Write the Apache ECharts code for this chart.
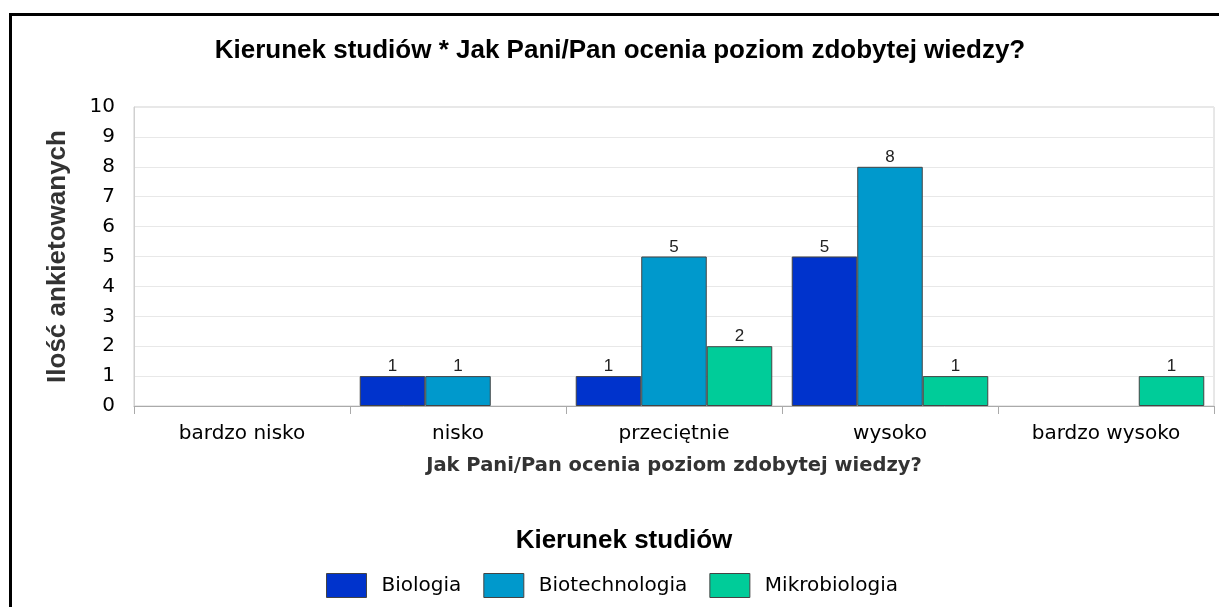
<!DOCTYPE html>
<html>
<head>
<meta charset="utf-8">
<script src="https://cdn.jsdelivr.net/npm/echarts@6/dist/echarts.min.js"></script>
<style>
  html, body { margin: 0; padding: 0; background: #fff; }
  #frame { position: absolute; left: 9px; top: 13px; right: 0; bottom: 0; border-top: 3px solid #000; border-left: 3px solid #000; pointer-events: none; }
  #chart { position: absolute; left: 0; top: 0; width: 1219px; height: 607px; }
</style>
</head>
<body>
<div id="chart"></div>
<div id="frame"></div>
<script>
var categories = ['bardzo nisko', 'nisko', 'przeciętnie', 'wysoko', 'bardzo wysoko'];
var seriesNames = ['Biologia', 'Biotechnologia', 'Mikrobiologia'];
var biologia = [0, 1, 1, 5, 0];
var biotechnologia = [0, 1, 5, 8, 0];
var mikrobiologia = [0, 0, 2, 1, 1];
var colors = ['#0033cc', '#0099cc', '#00cc99'];

var chartDom = document.getElementById('chart');
var myChart = echarts.init(chartDom);

function makeSeries(name, data, color) {
  return {
    name: name,
    type: 'bar',
    barGap: 0,
    barCategoryGap: '9%',
    data: data.map(function (v) { return v === 0 ? null : v; }),
    itemStyle: { color: color, borderColor: '#444', borderWidth: 1 },
    label: {
      show: true,
      position: 'top',
      distance: 1,
      color: '#222',
      fontFamily: 'Liberation Sans',
      fontSize: 17
    }
  };
}

var option = {
  animation: false,
  title: [
    {
      text: 'Kierunek studiów * Jak Pani/Pan ocenia poziom zdobytej wiedzy?',
      left: 615,
      textAlign: 'center',
      top: 33,
      textStyle: { fontFamily: 'Liberation Sans', fontWeight: 'bold', fontSize: 26, color: '#000' }
    },
    {
      text: 'Kierunek studiów',
      left: 619,
      textAlign: 'center',
      top: 523,
      textStyle: { fontFamily: 'Liberation Sans', fontWeight: 'bold', fontSize: 26, color: '#000' }
    }
  ],
  legend: {
    data: seriesNames,
    left: 321,
    top: 568,
    itemWidth: 40,
    itemHeight: 24,
    itemGap: 22,
    icon: 'rect',
    itemStyle: { borderColor: '#444', borderWidth: 1 },
    textStyle: { fontFamily: 'DejaVu Sans', fontSize: 20, color: '#000', padding: [0, 0, 0, 10] }
  },
  grid: {
    left: 134,
    right: 5,
    top: 107,
    bottom: 201,
    show: true,
    borderColor: '#d0d0d0',
    borderWidth: 1
  },
  xAxis: {
    type: 'category',
    data: categories,
    name: 'Jak Pani/Pan ocenia poziom zdobytej wiedzy?',
    nameLocation: 'middle',
    nameGap: 50,
    nameTextStyle: { fontFamily: 'DejaVu Sans', fontWeight: 'bold', fontSize: 19.5, color: '#333' },
    axisLine: { lineStyle: { color: '#aaa' } },
    axisTick: { show: true, length: 8, lineStyle: { color: '#aaa' } },
    axisLabel: { fontFamily: 'DejaVu Sans', fontSize: 20, color: '#000', margin: 18 }
  },
  yAxis: {
    type: 'value',
    min: 0,
    max: 10,
    interval: 1,
    name: 'Ilość ankietowanych',
    nameLocation: 'middle',
    nameRotate: 90,
    nameGap: 63,
    nameTextStyle: { fontFamily: 'Liberation Sans', fontWeight: 'bold', fontSize: 26, color: '#333' },
    axisLine: { show: true, lineStyle: { color: '#d0d0d0' } },
    axisTick: { show: false },
    axisLabel: { fontFamily: 'DejaVu Sans', fontSize: 20, color: '#000', margin: 19 },
    splitLine: { lineStyle: { color: '#e8e8e8' } }
  },
  series: [
    makeSeries(seriesNames[0], biologia, colors[0]),
    makeSeries(seriesNames[1], biotechnologia, colors[1]),
    makeSeries(seriesNames[2], mikrobiologia, colors[2])
  ]
};

option && myChart.setOption(option);
</script>
</body>
</html>
